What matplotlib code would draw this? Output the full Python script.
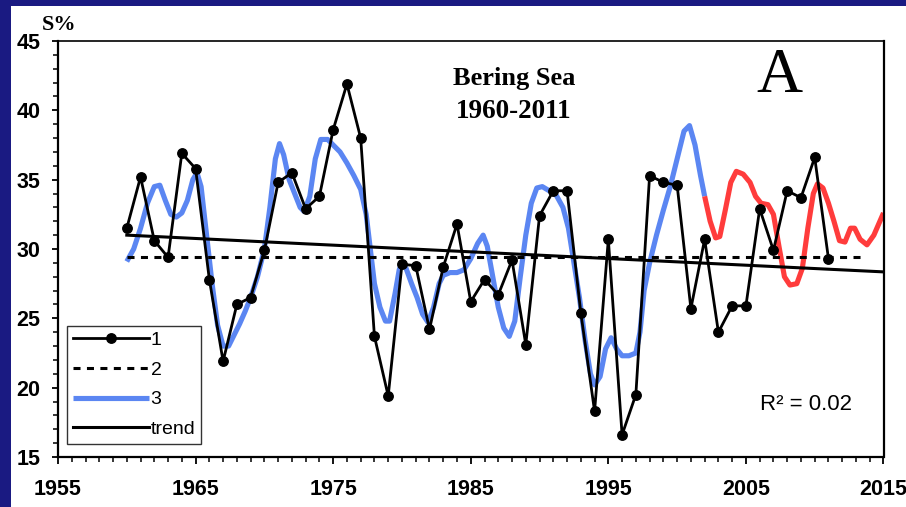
import matplotlib
matplotlib.use("Agg")
import matplotlib.pyplot as plt
from matplotlib.patches import Rectangle
from matplotlib.ticker import MultipleLocator

# ---- data ----
years1 = list(range(1960, 2012))
series1 = [31.5, 35.2, 30.6, 29.4, 36.9, 35.8, 27.8, 21.9, 26.0, 26.5,
           29.9, 34.8, 35.5, 32.9, 33.8, 38.6, 41.9, 38.0, 23.7, 19.4,
           28.9, 28.8, 24.2, 28.7, 31.8, 26.2, 27.8, 26.7, 29.2, 23.1,
           32.4, 34.2, 34.2, 25.4, 18.3, 30.7, 16.6, 19.5, 35.3, 34.8,
           34.6, 25.7, 30.7, 24.0, 25.9, 25.9, 32.9, 29.9, 34.2, 33.7,
           36.6, 29.3]

mean_years = [1960, 2013.6]
mean_vals = [29.4, 29.4]

trend_years = [1960, 2015]
trend_vals = [31.0, 28.35]

blue_years = [1960.0, 1960.5, 1961.0, 1961.5, 1962.0, 1962.4, 1962.8, 1963.2, 1963.6, 1964.0,
              1964.4, 1964.8, 1965.1, 1965.4, 1965.8, 1966.2, 1966.6, 1967.0, 1967.4, 1967.8,
              1968.2, 1968.6, 1969.0, 1969.5, 1970.0, 1970.4, 1970.8, 1971.1, 1971.4, 1971.8,
              1972.2, 1972.6, 1972.9, 1973.3, 1973.7, 1974.1, 1974.6, 1975.0, 1975.5, 1976.0,
              1976.5, 1977.0, 1977.4, 1977.7, 1978.0, 1978.4, 1978.8, 1979.1, 1979.5, 1979.8,
              1980.0, 1980.3, 1980.7, 1981.1, 1981.5, 1981.9, 1982.3, 1982.7, 1983.0, 1983.5,
              1984.0, 1984.5, 1985.0, 1985.5, 1985.9, 1986.2, 1986.6, 1987.0, 1987.4, 1987.8,
              1988.2, 1988.6, 1989.0, 1989.4, 1989.8, 1990.2, 1990.7, 1991.2, 1991.7, 1992.1,
              1992.5, 1992.9, 1993.3, 1993.7, 1994.0, 1994.4, 1994.8, 1995.2, 1995.6, 1996.0,
              1996.5, 1997.0, 1997.3, 1997.6, 1998.0, 1998.5, 1999.0, 1999.5, 2000.0, 2000.5,
              2000.9, 2001.3, 2001.7, 2002.0]
blue_vals = [29.1, 30.0, 31.5, 33.3, 34.5, 34.6, 33.5, 32.5, 32.3, 32.6,
             33.5, 35.0, 35.5, 34.5, 31.0, 27.5, 24.5, 23.0, 23.0, 23.8,
             24.6, 25.5, 26.5, 28.0, 30.0, 33.0, 36.5, 37.6, 36.8, 35.0,
             34.0, 33.0, 32.7, 33.8, 36.5, 37.9, 37.9, 37.5, 37.0, 36.2,
             35.3, 34.3, 32.5, 30.0, 27.5, 25.8, 24.8, 24.8, 26.8, 28.5,
             29.0, 28.6, 27.5, 26.5, 25.3, 24.7, 25.8, 27.5, 28.1, 28.3,
             28.3, 28.5, 29.3, 30.4, 31.0, 30.2, 28.0, 25.8, 24.3, 23.7,
             24.8, 28.0, 31.0, 33.3, 34.4, 34.5, 34.2, 33.9, 33.0, 31.5,
             29.0, 26.5, 23.5, 21.0, 20.2, 20.8, 22.8, 23.6, 22.8, 22.3,
             22.3, 22.5, 24.0, 27.0, 29.0, 31.0, 32.8, 34.5, 36.5, 38.5,
             38.9, 37.5, 35.3, 33.8]

red_years = [2002.0, 2002.4, 2002.8, 2003.1, 2003.5, 2003.9, 2004.3, 2004.8, 2005.3, 2005.7,
             2006.1, 2006.6, 2007.0, 2007.4, 2007.8, 2008.2, 2008.7, 2009.1, 2009.5, 2009.9,
             2010.2, 2010.6, 2011.0, 2011.4, 2011.8, 2012.2, 2012.6, 2012.9, 2013.3, 2013.8,
             2014.3, 2015.0]
red_vals = [33.8, 32.0, 30.8, 30.9, 32.8, 34.8, 35.6, 35.4, 34.8, 33.8,
            33.3, 33.2, 32.5, 30.2, 28.0, 27.4, 27.5, 28.6, 31.5, 34.0,
            34.7, 34.4, 33.3, 32.0, 30.6, 30.5, 31.5, 31.5, 30.7, 30.3,
            31.0, 32.6]

legend_labels = ["1", "2", "3", "trend"]
x_ticks = [1955, 1965, 1975, 1985, 1995, 2005, 2015]
y_ticks = [15, 20, 25, 30, 35, 40, 45]

NAVY = "#1a1a82"
BLUE = "#5b86f2"
RED = "#ff3c3c"

W, H = 906, 507
fig = plt.figure(figsize=(W / 100, H / 100), dpi=100, facecolor=NAVY)
fig.patches.append(Rectangle((11 / W, 0), 1 - 11 / W, (H - 6) / H,
                             transform=fig.transFigure, facecolor="white",
                             edgecolor="none", zorder=-10))

ax = fig.add_axes([58 / W, 1 - 457 / H, (883.5 - 58) / W, (457 - 41) / H])
ax.set_facecolor("white")
ax.set_zorder(1)

l3, = ax.plot(blue_years, blue_vals, color=BLUE, lw=3.7, zorder=2,
              solid_capstyle="butt", solid_joinstyle="round")
ax.plot(red_years, red_vals, color=RED, lw=3.7, zorder=2,
        solid_capstyle="butt", solid_joinstyle="round")
l2, = ax.plot(mean_years, mean_vals, color="black", lw=2.2, dashes=(2.3, 2.1), zorder=3)
lt, = ax.plot(trend_years, trend_vals, color="black", lw=2.2, zorder=3)
l1, = ax.plot(years1, series1, color="black", lw=2.0, marker="o", ms=6.8, zorder=4)

ax.set_xlim(1955, 2015)
ax.set_ylim(15, 45)
ax.set_xticks(x_ticks)
ax.set_yticks(y_ticks)
ax.xaxis.set_minor_locator(MultipleLocator(1))
ax.yaxis.set_minor_locator(MultipleLocator(1))
ax.tick_params(axis="x", which="major", direction="out", length=5, width=1.3, pad=10.5)
ax.tick_params(axis="x", which="minor", direction="out", length=3.6, width=1.1)
ax.tick_params(axis="y", which="major", direction="out", length=4.5, width=1.3, pad=8)
ax.tick_params(axis="y", which="minor", direction="out", length=3.8, width=1.1)
for lab in ax.get_xticklabels() + ax.get_yticklabels():
    lab.set_fontfamily("Liberation Sans")
    lab.set_fontweight("bold")
    lab.set_fontsize(15.5)
for s in ax.spines.values():
    s.set_linewidth(1.6)
    s.set_color("black")
ax.spines["top"].set_linewidth(1.2)

fig.text(42 / W, 1 - 25 / H, "S%", fontfamily="Liberation Serif", fontweight="bold",
         fontsize=16, ha="left", va="center")

fig.text(514 / W, 1 - 78 / H, "Bering Sea", fontfamily="Liberation Serif",
         fontweight="bold", fontsize=19, ha="center", va="center")
fig.text(514 / W, 1 - 112 / H, "1960-2011", fontfamily="Liberation Serif",
         fontweight="bold", fontsize=19.5, ha="center", va="center")
fig.text(779 / W, 1 - 77 / H, "A", fontfamily="Liberation Serif", fontsize=46,
         ha="center", va="center")
fig.text(806 / W, 1 - 404 / H, "R² = 0.02", fontfamily="Liberation Sans", fontsize=16,
         ha="center", va="center")

leg = ax.legend([l1, l2, l3, lt], legend_labels, loc="lower left",
                bbox_to_anchor=(9 / 825.5, 13 / 416), borderaxespad=0,
                frameon=True, fancybox=False, shadow=False,
                prop={"family": "Liberation Sans", "size": 14},
                handlelength=3.9, handletextpad=0.1, labelspacing=0.62,
                borderpad=0.3, framealpha=1)
leg.get_frame().set_edgecolor("#333333")
leg.get_frame().set_linewidth(1.0)
leg.set_zorder(5)

fig.savefig("out.png", dpi=100, facecolor=NAVY)
